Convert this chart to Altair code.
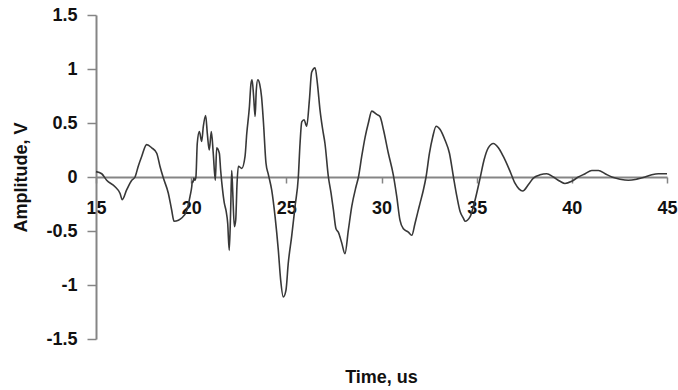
import altair as alt
import pandas as pd

time_us = [
    15.0, 15.30, 15.56, 16.0, 16.26, 16.38, 16.61, 16.88, 17.05, 17.22, 17.40, 17.66,
    17.93, 18.19, 18.36, 18.54, 18.80, 18.98, 19.10, 19.33, 19.50, 19.77, 19.94, 20.03,
    20.06, 20.10, 20.14, 20.20, 20.25, 20.32, 20.43, 20.55, 20.64, 20.76, 20.85, 20.95,
    21.06, 21.16, 21.27, 21.34, 21.48, 21.55, 21.65, 21.74, 21.83, 21.92, 22.00, 22.08,
    22.13, 22.18, 22.27, 22.34, 22.41, 22.48, 22.66, 22.83, 22.92, 23.06, 23.14, 23.20,
    23.28, 23.36, 23.42, 23.50, 23.60, 23.70, 23.80, 23.93, 24.06, 24.23, 24.41, 24.58,
    24.70, 24.84, 24.98, 25.10, 25.28, 25.46, 25.63, 25.72, 25.81, 25.93, 26.07, 26.21,
    26.33, 26.51, 26.63, 26.77, 26.91, 27.03, 27.21, 27.35, 27.47, 27.61, 27.73, 27.91,
    28.08, 28.26, 28.44, 28.66, 28.79, 28.96, 29.14, 29.31, 29.49, 29.75, 29.92, 30.10,
    30.36, 30.62, 30.80, 30.97, 31.15, 31.41, 31.59, 31.76, 31.90, 32.03, 32.20, 32.34,
    32.52, 32.69, 32.87, 33.08, 33.34, 33.57, 33.78, 33.96, 34.13, 34.30, 34.39, 34.65,
    34.92, 35.18, 35.39, 35.61, 35.88, 36.14, 36.40, 36.76, 37.02, 37.22, 37.42, 37.72,
    37.98, 38.33, 38.68, 39.03, 39.38, 39.64, 39.99, 40.34, 40.70, 41.05, 41.40, 41.75,
    42.10, 42.53, 42.97, 43.41, 43.85, 44.20, 44.55, 45.0,
]
amplitude_v = [
    0.05, 0.03, -0.03, -0.09, -0.15, -0.21, -0.12, -0.03, 0.00, 0.10, 0.19, 0.30,
    0.27, 0.22, 0.10, -0.01, -0.15, -0.31, -0.41, -0.40, -0.38, -0.31, -0.18, -0.09,
    -0.04, -0.05, -0.01, -0.03, 0.00, 0.31, 0.42, 0.33, 0.47, 0.57, 0.40, 0.25,
    0.42, 0.22, -0.03, 0.27, 0.22, 0.06, -0.12, -0.24, -0.31, -0.43, -0.68, -0.27,
    0.06, -0.12, -0.46, -0.40, -0.06, 0.10, 0.08, 0.19, 0.40, 0.65, 0.86, 0.90,
    0.75, 0.56, 0.80, 0.90, 0.86, 0.74, 0.50, 0.13, 0.02, -0.12, -0.37, -0.68,
    -0.95, -1.11, -1.05, -0.80, -0.55, -0.27, 0.00, 0.31, 0.51, 0.53, 0.47, 0.71,
    0.97, 1.01, 0.87, 0.62, 0.44, 0.31, 0.00, -0.15, -0.30, -0.48, -0.51, -0.61,
    -0.71, -0.49, -0.27, -0.09, 0.00, 0.19, 0.37, 0.50, 0.61, 0.58, 0.56, 0.44,
    0.22, 0.02, -0.18, -0.40, -0.48, -0.51, -0.54, -0.43, -0.33, -0.24, -0.12, 0.00,
    0.22, 0.37, 0.47, 0.44, 0.34, 0.22, 0.00, -0.18, -0.32, -0.38, -0.41, -0.37,
    -0.21, -0.01, 0.16, 0.27, 0.31, 0.27, 0.19, 0.05, -0.06, -0.11, -0.13, -0.07,
    -0.01, 0.02, 0.03, 0.00, -0.04, -0.06, -0.04, 0.00, 0.03, 0.06, 0.06, 0.03,
    0.00, -0.02, -0.03, -0.02, 0.00, 0.02, 0.03, 0.03,
]
x_ticks = [15, 20, 25, 30, 35, 40, 45]
y_ticks = [-1.5, -1, -0.5, 0, 0.5, 1, 1.5]

df = pd.DataFrame({"t": time_us, "v": amplitude_v})

FONT = "Liberation Sans"
AXIS_COLOR = "#858585"

chart = (
    alt.Chart(df)
    .mark_line(color="#383838", strokeWidth=1.6, interpolate="monotone")
    .encode(
        x=alt.X(
            "t:Q",
            scale=alt.Scale(domain=[15, 45], nice=False, zero=False),
            axis=alt.Axis(
                values=x_ticks,
                labelExpr="toString(datum.value)",
                offset=-162,
                grid=False,
                domainColor=AXIS_COLOR,
                domainWidth=2,
                tickColor=AXIS_COLOR,
                tickWidth=1.5,
                tickSize=6,
                labelPadding=16,
                labelFont=FONT,
                labelFontSize=18,
                labelFontWeight="bold",
                labelColor="#111111",
                labelFlush=False,
                labelOverlap=False,
                title="Time, us",
                titleFont=FONT,
                titleFontSize=18,
                titleFontWeight="bold",
                titleColor="#111111",
                titleX=285,
                titleY=205,
                titleBaseline="alphabetic",
                titleAlign="center",
            ),
        ),
        y=alt.Y(
            "v:Q",
            scale=alt.Scale(domain=[-1.5, 1.5], nice=False),
            axis=alt.Axis(
                values=y_ticks,
                labelExpr="toString(datum.value)",
                grid=False,
                domainColor=AXIS_COLOR,
                domainWidth=2,
                tickColor=AXIS_COLOR,
                tickWidth=1.5,
                tickSize=9,
                labelPadding=10,
                labelFont=FONT,
                labelFontSize=18,
                labelFontWeight="bold",
                labelColor="#111111",
                labelOverlap=False,
                title="Amplitude, V",
                titleFont=FONT,
                titleFontSize=18,
                titleFontWeight="bold",
                titleColor="#111111",
                titleAngle=-90,
                titleX=-70,
                titleY=162,
                titleBaseline="alphabetic",
                titleAlign="center",
            ),
        ),
    )
    .properties(
        width=571,
        height=324,
        padding={"left": 96, "top": 15, "right": 11, "bottom": 51},
        autosize=alt.AutoSizeParams(type="none"),
        background="white",
    )
    .configure_view(stroke=None)
)

chart.save("out.html", embed_options={"renderer": "svg", "actions": False})
